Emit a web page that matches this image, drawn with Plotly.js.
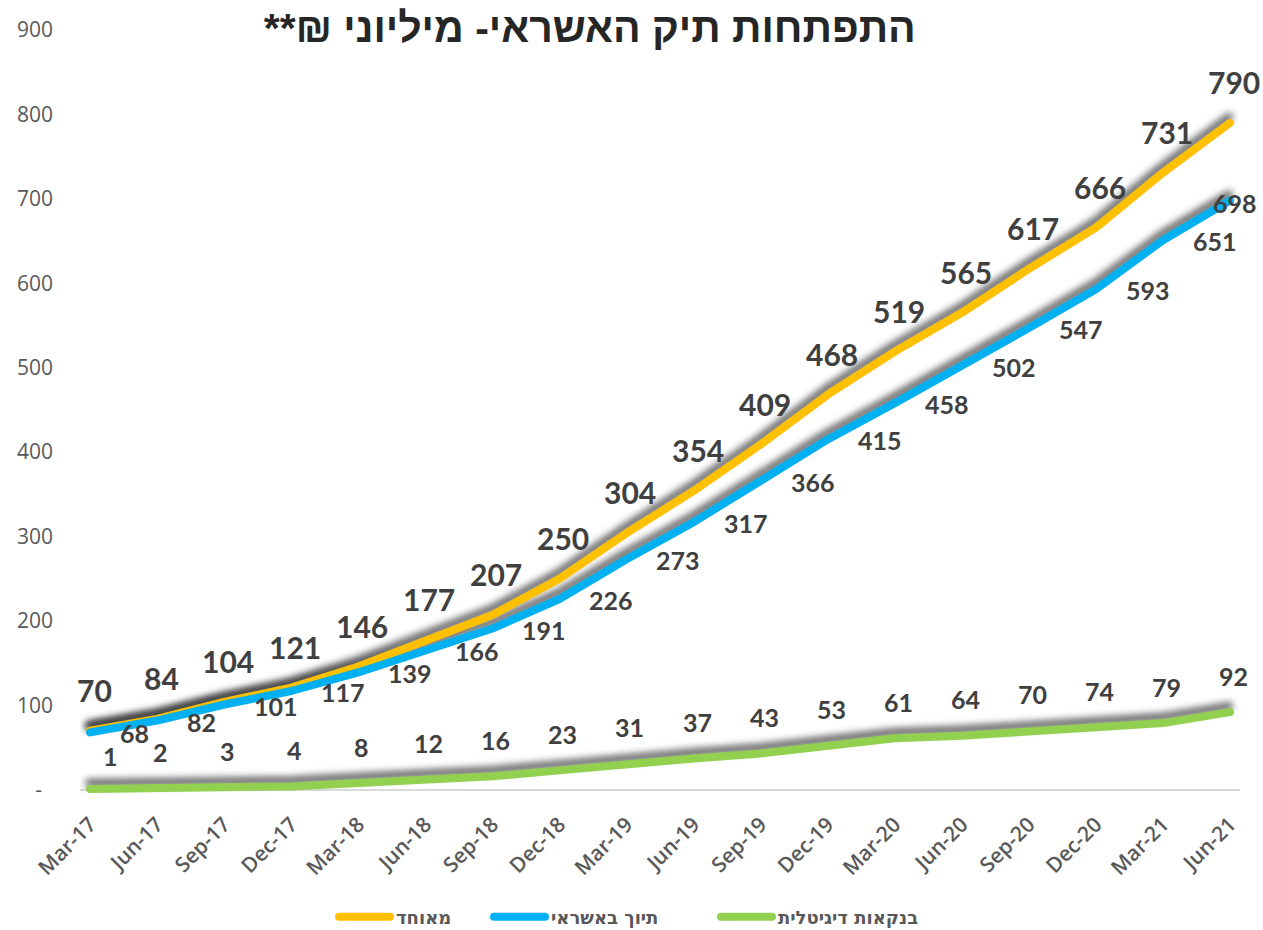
<!DOCTYPE html>
<html>
<head>
<meta charset="utf-8">
<script src="https://cdn.plot.ly/plotly-3.0.1.min.js"></script>
<style>
  html, body { margin: 0; padding: 0; background: #fff; }
  #chart { width: 1263px; height: 930px; }
  .js-line { stroke-linecap: round !important; stroke-linejoin: round !important; }
</style>
</head>
<body>
<svg width="0" height="0" style="position:absolute">
  <defs>
    <filter id="shd" filterUnits="userSpaceOnUse" x="-200" y="-200" width="1600" height="1300">
      <feGaussianBlur in="SourceAlpha" stdDeviation="3.5" result="b"/>
      <feOffset in="b" dx="-1" dy="-6" result="o"/>
      <feFlood flood-color="#000" flood-opacity="0.62"/>
      <feComposite in2="o" operator="in"/>
    </filter>
  </defs>
</svg>
<div id="chart"></div>
<script>
const months = ['Mar-17','Jun-17','Sep-17','Dec-17','Mar-18','Jun-18','Sep-18','Dec-18','Mar-19','Jun-19','Sep-19','Dec-19','Mar-20','Jun-20','Sep-20','Dec-20','Mar-21','Jun-21'];
const consolidated = [70,84,104,121,146,177,207,250,304,354,409,468,519,565,617,666,731,790];
const creditBrokerage = [68,82,101,117,139,166,191,226,273,317,366,415,458,502,547,593,651,698];
const digitalBanking = [1,2,3,4,8,12,16,23,31,37,43,53,61,64,70,74,79,92];
const seriesNames = ['מאוחד','תיוך באשראי','בנקאות דיגיטלית'];
const yTickValues = [0,100,200,300,400,500,600,700,800,900];
const yTickLabels = ['-\u00a0\u00a0','100','200','300','400','500','600','700','800','900'];
const chartTitle = 'התפתחות תיק האשראי- מיליוני ₪**\u200F';

const colors = ['#FFC000','#00B0F0','#92D050'];
const allSeries = [consolidated, creditBrokerage, digitalBanking];
const legendIds = ['legend', 'legend2', 'legend3'];
const legendLeftPx = [330, 485, 712];
const labelColor = '#404040';
const numFont = 'Lato, "Liberation Sans", sans-serif';
const hebFont = '"Liberation Sans", "DejaVu Sans", sans-serif';
const legFont = '"DejaVu Sans", "Liberation Sans", sans-serif';

const traces = [];
allSeries.forEach(function (s) {
  traces.push({ x: months, y: s, type: 'scatter', mode: 'lines', line: { color: '#000', width: 8 },
    showlegend: false, hoverinfo: 'skip' });
});
allSeries.forEach(function (s, i) {
  traces.push({ x: months, y: s, type: 'scatter', mode: 'lines', name: seriesNames[i], legend: legendIds[i],
    line: { color: colors[i], width: 8 }, hoverinfo: 'x+y' });
});

const annotations = [];
consolidated.forEach(function (v, i) {
  annotations.push({ x: months[i], y: v, text: String(v), showarrow: false, xanchor: 'center', yanchor: 'middle',
    xshift: 4, yshift: 41, font: { family: numFont, size: 30, weight: 700, color: labelColor } });
});
creditBrokerage.forEach(function (v, i) {
  const last = i === creditBrokerage.length - 1;
  annotations.push({ x: months[i], y: v, text: String(v), showarrow: false, xanchor: 'left', yanchor: 'middle',
    xshift: last ? -19 : 28, yshift: last ? -2 : -1, font: { family: numFont, size: 25, weight: 700, color: labelColor } });
});
digitalBanking.forEach(function (v, i) {
  annotations.push({ x: months[i], y: v, text: String(v), showarrow: false, xanchor: 'center', yanchor: 'middle',
    xshift: i === 0 ? 20 : 3.5, yshift: i === 0 ? 33 : 36.5, font: { family: numFont, size: 25, weight: 700, color: labelColor } });
});

function legendBox(i) {
  return { orientation: 'h', xref: 'container', yref: 'container', x: legendLeftPx[i] / 1263, xanchor: 'left',
    y: 1 - 917 / 930, yanchor: 'middle', itemwidth: 56, bgcolor: 'rgba(0,0,0,0)', borderwidth: 0,
    font: { family: legFont, size: 18, weight: 700, color: '#595959' } };
}

const layout = {
  width: 1263, height: 930, autosize: false,
  margin: { l: 80, r: 23, t: 30, b: 136, pad: 0 },
  paper_bgcolor: '#fff', plot_bgcolor: '#fff',
  title: { text: chartTitle, xref: 'container', yref: 'container', x: 0.467, xanchor: 'center', y: 0.970, yanchor: 'middle',
    font: { family: hebFont, size: 41, weight: 700, color: '#262626' } },
  xaxis: { type: 'category', range: [-0.15, 17.15], showgrid: false, zeroline: false, showline: false, automargin: false,
    ticks: '', tickangle: -45, ticklabelstandoff: 13,
    tickfont: { family: '"Open Sans", sans-serif', size: 21, weight: 600, color: '#595959' } },
  yaxis: { range: [-5, 900], tickvals: yTickValues, ticktext: yTickLabels, showgrid: false, automargin: false,
    zeroline: true, zerolinecolor: '#d9d9d9', zerolinewidth: 2, showline: false, ticks: '', ticklabelstandoff: 26,
    tickfont: { family: '"Open Sans", sans-serif', size: 21, color: '#595959' } },
  showlegend: true,
  legend: legendBox(0), legend2: legendBox(1), legend3: legendBox(2),
  annotations: annotations
};

Plotly.newPlot('chart', traces, layout, { displayModeBar: false, responsive: false }).then(function (gd) {
  const tr = gd.querySelectorAll('.cartesianlayer .scatterlayer .trace');
  for (let i = 0; i < 3 && i < tr.length; i++) {
    tr[i].querySelectorAll('path.js-line').forEach(function (p) { p.setAttribute('filter', 'url(#shd)'); });
  }
  gd.querySelectorAll('.legendlines path').forEach(function (p) { p.setAttribute('d', 'M9,0h51'); });
});
</script>
</body>
</html>
